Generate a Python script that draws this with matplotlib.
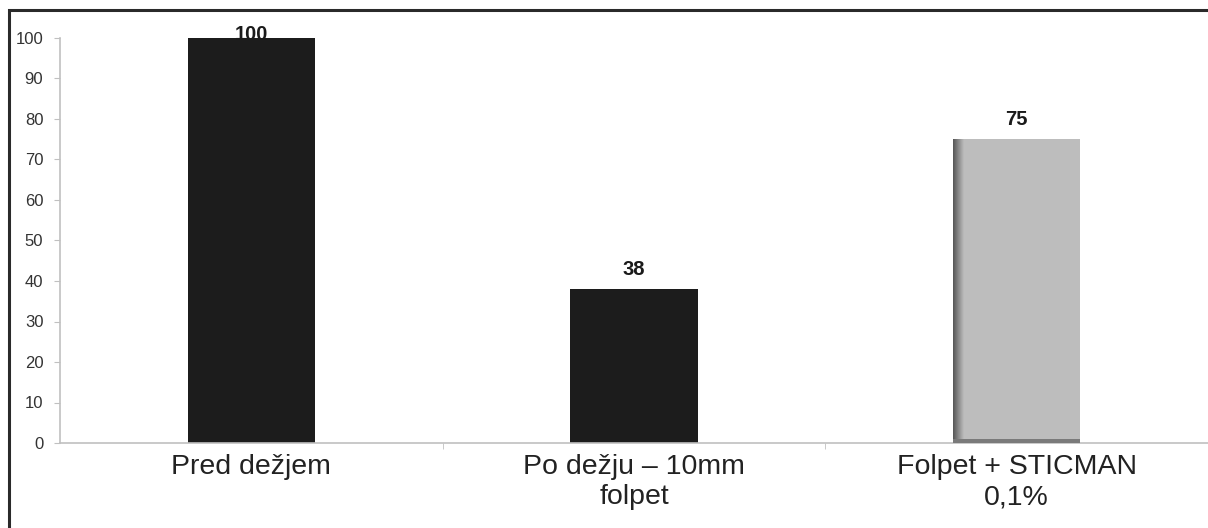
import matplotlib
matplotlib.use("Agg")
import matplotlib.pyplot as plt
import numpy as np
from matplotlib.patches import Rectangle

plt.rcParams['font.family'] = ['Liberation Sans', 'DejaVu Sans']

categories = ["Pred dežjem", "Po dežju – 10mm\nfolpet", "Folpet + STICMAN\n0,1%"]
values = [100, 38, 75]
colors = ["#1c1c1c", "#1c1c1c", "#bdbdbd"]
yticks = [0, 10, 20, 30, 40, 50, 60, 70, 80, 90, 100]

W, H = 1208, 528
fig = plt.figure(figsize=(W / 100, H / 100), dpi=100)
fig.patch.set_facecolor("white")

# outer frame
fig.patches.append(Rectangle((9 / W, -0.05), 1.2, 1 - 10 / H + 0.05, transform=fig.transFigure,
                             fill=False, edgecolor="#2a2a2a", linewidth=2.2, zorder=0))

ax = fig.add_axes([60 / W, 1 - 443 / H, 1 - 60 / W, (443 - 38) / H])
x = np.arange(len(categories))
bars = ax.bar(x, values, width=0.333, color=colors, zorder=2)

# shading on the grey bar (darker left edge and bottom)
b = bars[2]
bx0, bw, bh = b.get_x(), b.get_width(), b.get_height()
grad = np.linspace(0, 1, 64).reshape(1, -1)
ax.imshow(grad, extent=(bx0, bx0 + bw * 0.08, 0, bh), cmap=matplotlib.colors.LinearSegmentedColormap.from_list(
    "g", ["#555555", "#bdbdbd"]), aspect="auto", zorder=3, interpolation="bilinear")
ax.add_patch(Rectangle((bx0, 0), bw, 0.9, facecolor="#7a7a7a", edgecolor="none", zorder=3))

ax.set_xlim(-0.5, 2.5)
ax.set_ylim(0, 100)

for xi, v in zip(x, values):
    ax.text(xi, min(v + 4.8, 100.8), str(v), ha="center", va="center", fontsize=14.5,
            fontweight="bold", color="#1a1a1a", clip_on=False, zorder=4)

for s in ["top", "right"]:
    ax.spines[s].set_visible(False)
for s in ["left", "bottom"]:
    ax.spines[s].set_color("#c0c0c0")
    ax.spines[s].set_linewidth(1.2)

ax.set_yticks(yticks)
ax.tick_params(axis="y", direction="out", length=4, color="#c0c0c0", labelsize=12,
               labelcolor="#333333", pad=8)
ax.set_xticks(x)
ax.set_xticklabels(categories)
ax.tick_params(axis="x", length=0, labelsize=20.5, labelcolor="#222222", pad=8)
ax.set_xticks([0.5, 1.5], minor=True)
ax.tick_params(axis="x", which="minor", direction="out", length=4, color="#c0c0c0")
ax.patch.set_alpha(0)

fig.savefig("out.png", dpi=100, facecolor="white")
